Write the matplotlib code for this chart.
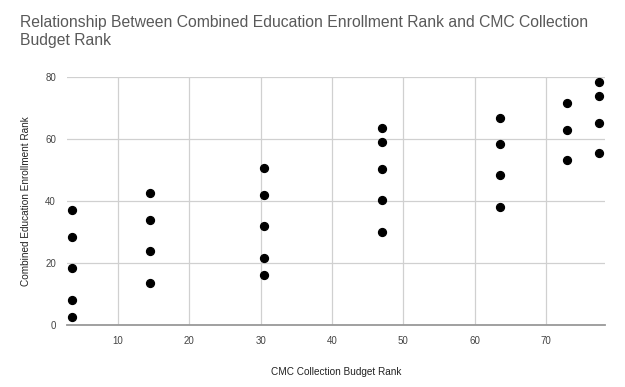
import matplotlib.pyplot as plt

plt.rcParams['font.family'] = ['Liberation Sans Narrow', 'Liberation Sans', 'DejaVu Sans']

budget_rank = [3.5, 3.5, 3.5, 3.5, 3.5,
               14.5, 14.5, 14.5, 14.5,
               30.5, 30.5, 30.5, 30.5, 30.5,
               47, 47, 47, 47, 47,
               63.5, 63.5, 63.5, 63.5,
               73, 73, 73,
               77.5, 77.5, 77.5, 77.5]
enroll_rank = [37, 28.5, 18.4, 8.1, 2.6,
               42.7, 33.9, 23.9, 13.7,
               50.8, 41.9, 31.9, 21.6, 16.2,
               63.4, 59, 50.2, 40.2, 30,
               66.9, 58.5, 48.4, 38.2,
               71.7, 62.9, 53.2,
               78.3, 74, 65.2, 55.5]

xticks = [10, 20, 30, 40, 50, 60, 70]
yticks = [0, 20, 40, 60, 80]

fig = plt.figure(figsize=(6.25, 3.87), dpi=100)
ax = fig.add_axes([0.1072, 0.160, 0.861, 0.641])

ax.scatter(budget_rank, enroll_rank, s=32, color='black', zorder=3, clip_on=False)

ax.set_xlim(2.85, 78.3)
ax.set_ylim(0, 80)
ax.set_xticks(xticks)
ax.set_yticks(yticks)
ax.grid(True, color='#d0d0d0', linewidth=0.9)
ax.set_axisbelow(True)

for s in ['top', 'right', 'left']:
    ax.spines[s].set_visible(False)
ax.spines['bottom'].set_color('#999999')
ax.spines['bottom'].set_linewidth(1.3)
ax.tick_params(length=0, labelsize=7, colors='#444444', pad=8)

ax.set_xlabel('CMC Collection Budget Rank', fontsize=7.2, color='#222222', labelpad=15)
ax.set_ylabel('Combined Education Enrollment Rank', fontsize=7.2, color='#222222', labelpad=10)

fig.text(0.032, 0.962, 'Relationship Between Combined Education Enrollment Rank and CMC Collection\nBudget Rank',
         fontsize=11.3, color='#595959', ha='left', va='top', linespacing=1.3)

plt.savefig('out.png', dpi=100)
